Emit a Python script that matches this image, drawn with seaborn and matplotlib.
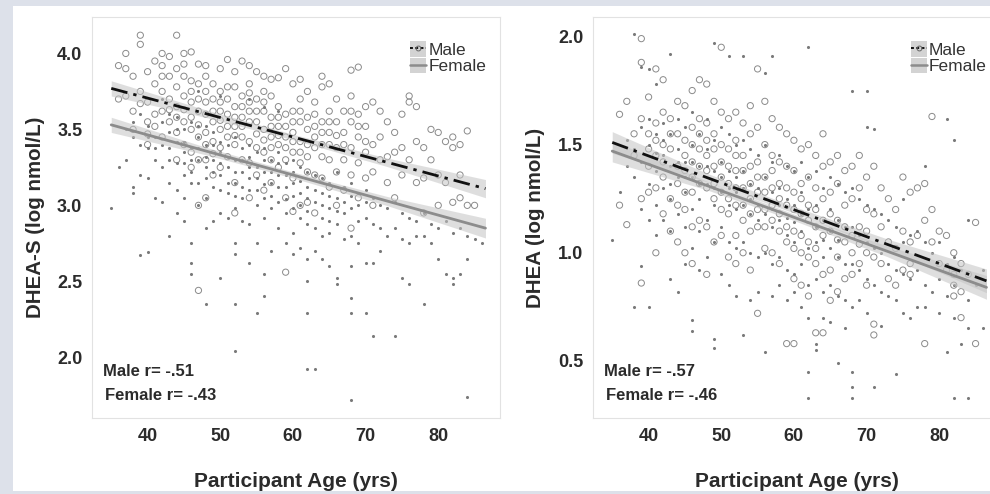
import matplotlib
matplotlib.use("Agg")
import matplotlib.pyplot as plt
import pandas as pd
import seaborn as sns
from matplotlib.legend_handler import HandlerTuple
from matplotlib.lines import Line2D
from matplotlib.patches import Patch, Rectangle


# values, grouped by (age, [values at that age])
DHEAS_MALE = [
    (36, [3.92, 3.70]), (37, [4.00, 3.90, 3.72]), (38, [3.85, 3.62, 3.50]),
    (39, [4.12, 4.06, 3.75, 3.67]), (40, [3.88, 3.68, 3.55, 3.40, 3.47]),
    (41, [3.95, 3.80, 3.60, 3.52]), (42, [4.00, 3.92, 3.75, 3.62, 3.45, 3.85]),
    (43, [3.98, 3.85, 3.70, 3.55, 3.63]), (44, [4.12, 3.90, 3.78, 3.65, 3.48, 3.30, 3.58]),
    (45, [4.00, 3.85, 3.72, 3.55, 3.40, 3.93, 3.63]),
    (46, [4.01, 3.82, 3.68, 3.50, 3.35, 3.25, 3.75, 3.58]),
    (47, [3.93, 3.80, 3.62, 3.45, 3.30, 3.00, 2.44, 3.70, 3.53]),
    (48, [3.92, 3.85, 3.75, 3.60, 3.48, 3.30, 3.05, 3.68, 3.40]),
    (49, [3.80, 3.70, 3.55, 3.42, 3.20, 3.62, 3.34]),
    (50, [3.90, 3.75, 3.62, 3.50, 3.38, 3.25, 3.68, 3.56]),
    (51, [3.96, 3.70, 3.60, 3.45, 3.32, 3.52, 3.78]),
    (52, [3.88, 3.78, 3.65, 3.52, 3.40, 3.15, 2.95, 3.58, 3.46]),
    (53, [3.95, 3.72, 3.58, 3.45, 3.30, 3.65, 3.52]),
    (54, [3.92, 3.80, 3.68, 3.55, 3.42, 3.28, 3.05, 3.74, 3.62]),
    (55, [3.88, 3.70, 3.55, 3.38, 3.20, 3.62, 3.47]),
    (56, [3.85, 3.75, 3.62, 3.50, 3.35, 3.10, 3.68, 3.43]),
    (57, [3.83, 3.72, 3.58, 3.45, 3.30, 3.15, 3.52, 3.38]),
    (58, [3.84, 3.65, 3.52, 3.40, 3.25, 3.58, 3.46]),
    (59, [3.90, 3.60, 3.45, 3.30, 3.05, 2.56, 3.52, 3.38]),
    (60, [3.80, 3.62, 3.48, 3.35, 3.18, 2.96, 3.55, 3.42]),
    (61, [3.83, 3.70, 3.55, 3.42, 3.28, 3.00, 3.62, 3.35]),
    (62, [3.75, 3.58, 3.40, 3.22, 3.02, 3.50, 3.32]),
    (63, [3.68, 3.52, 3.38, 3.20, 2.95, 3.45, 3.60]),
    (64, [3.85, 3.78, 3.55, 3.40, 3.18, 3.48, 3.32]),
    (65, [3.80, 3.62, 3.48, 3.30, 3.12, 3.55, 3.40]),
    (66, [3.70, 3.55, 3.38, 3.22, 3.00, 3.46]),
    (67, [3.62, 3.48, 3.30, 3.10, 3.40]), (68, [3.89, 3.72, 3.55, 3.38, 3.20, 2.85, 3.62]),
    (69, [3.91, 3.60, 3.45, 3.28, 3.05, 3.52]), (70, [3.65, 3.52, 3.35, 3.18, 3.42]),
    (71, [3.68, 3.40, 3.22, 3.00]), (72, [3.62, 3.45, 3.30]), (73, [3.55, 3.32, 3.15]),
    (74, [3.48, 3.35, 3.05]), (75, [3.60, 3.38, 3.20]), (76, [3.72, 3.68, 3.30]),
    (77, [3.65, 3.42, 3.15]), (78, [3.38, 3.18, 2.95]), (79, [3.50, 3.30]),
    (80, [3.48, 3.20, 3.00]), (81, [3.42, 3.15]), (82, [3.45, 3.38, 3.02]),
    (83, [3.40, 3.20, 3.05]), (84, [3.49, 3.00]), (85, [3.00]),
]

DHEAS_FEMALE = [
    (35, [2.98]), (36, [3.25]), (37, [3.50, 3.30]), (38, [3.55, 3.45, 3.12, 3.08]),
    (39, [3.60, 3.40, 3.20, 2.67]), (40, [3.52, 3.38, 3.18, 2.69, 3.45]),
    (41, [3.45, 3.30, 3.05, 3.38]), (42, [3.55, 3.40, 3.25, 3.02, 3.70]),
    (43, [3.60, 3.48, 3.30, 3.15, 2.80, 3.38]), (44, [3.58, 3.42, 3.28, 3.10, 2.95, 3.50]),
    (45, [3.50, 3.35, 3.20, 3.05, 2.90, 3.42, 3.28]),
    (46, [3.55, 3.38, 3.22, 2.75, 2.62, 2.55, 3.30, 3.15]),
    (47, [3.75, 3.45, 3.30, 3.15, 3.00, 3.52, 3.38]),
    (48, [3.52, 3.40, 3.25, 3.05, 2.85, 2.35, 3.32, 3.18]),
    (49, [3.48, 3.30, 3.12, 2.90, 3.40, 3.22]),
    (50, [3.72, 3.42, 3.28, 3.10, 2.95, 2.52, 3.35, 3.20]),
    (51, [3.40, 3.25, 3.08, 2.92, 3.32, 3.15]),
    (52, [3.45, 3.30, 3.15, 2.98, 2.75, 2.68, 2.35, 2.04, 3.22, 3.06]),
    (53, [3.38, 3.22, 3.05, 2.90, 3.30, 3.12]),
    (54, [3.70, 3.40, 3.25, 3.10, 2.88, 2.62, 3.32, 3.18]),
    (55, [3.35, 3.18, 3.00, 2.75, 2.29, 3.25, 3.10]),
    (56, [3.65, 3.38, 3.22, 3.05, 2.92, 2.55, 2.40, 3.30, 3.14]),
    (57, [3.30, 3.15, 2.98, 2.70, 3.22, 3.06]), (58, [3.62, 3.35, 3.20, 3.02, 2.85, 3.28, 3.12]),
    (59, [3.28, 3.12, 2.95, 2.75, 3.20, 3.04]), (60, [3.30, 3.15, 2.98, 2.82, 2.68, 3.22, 3.06]),
    (61, [3.25, 3.08, 2.92, 2.72, 3.16, 3.00]),
    (62, [3.22, 3.05, 2.88, 2.65, 2.50, 2.29, 1.92, 3.12, 2.96]),
    (63, [3.20, 3.02, 2.85, 2.70, 1.92, 3.10]), (64, [3.18, 3.00, 2.80, 2.65, 3.08, 2.92]),
    (65, [3.15, 2.98, 2.82, 2.60, 3.06, 2.90]), (66, [3.22, 3.05, 2.88, 2.52, 2.48, 2.96]),
    (67, [3.12, 2.95, 2.78, 3.02]), (68, [3.15, 2.98, 2.80, 2.60, 2.39, 2.29, 1.72, 3.06]),
    (69, [3.08, 2.90, 2.75, 3.00]), (70, [3.10, 2.92, 2.62, 2.29, 3.02]),
    (71, [3.05, 2.88, 2.62, 2.14]), (72, [3.00, 2.85, 2.70]), (73, [2.98, 2.80]),
    (74, [3.02, 2.85, 2.14]), (75, [2.95, 2.78, 2.52]), (76, [2.92, 2.75, 2.48]),
    (77, [2.90, 2.80]), (78, [2.95, 2.80, 2.35]), (79, [2.88, 2.75]),
    (80, [2.85, 2.65]), (81, [2.90, 2.55]), (82, [2.82, 2.52, 2.48]),
    (83, [2.85, 2.55]), (84, [2.80, 2.65, 1.74]), (85, [2.78]), (86, [2.75]),
]

DHEA_MALE = [
    (36, [1.64, 1.22]), (37, [1.70, 1.13]), (38, [1.55, 1.45]),
    (39, [1.99, 1.88, 1.62, 1.25, 0.86]), (40, [1.72, 1.55, 1.40, 1.28, 1.48]),
    (41, [1.85, 1.60, 1.45, 1.30, 1.00, 1.52]), (42, [1.80, 1.65, 1.50, 1.35, 1.18, 1.42]),
    (43, [1.62, 1.48, 1.25, 1.10, 1.55]), (44, [1.70, 1.55, 1.40, 1.22, 1.05, 1.32]),
    (45, [1.68, 1.52, 1.38, 1.20, 1.00, 1.45, 1.28]),
    (46, [1.75, 1.58, 1.42, 1.28, 1.12, 0.95, 1.50, 1.35]),
    (47, [1.80, 1.62, 1.48, 1.32, 1.15, 1.55, 1.40]),
    (48, [1.78, 1.60, 1.45, 1.30, 1.12, 0.90, 1.52, 1.38]),
    (49, [1.70, 1.55, 1.40, 1.25, 1.05, 1.48, 1.32]),
    (50, [1.95, 1.65, 1.50, 1.35, 1.20, 1.08, 1.42, 1.28]),
    (51, [1.62, 1.48, 1.32, 1.18, 0.98, 1.40, 1.25]),
    (52, [1.65, 1.52, 1.38, 1.22, 1.08, 0.95, 1.45, 1.30]),
    (53, [1.60, 1.45, 1.30, 1.15, 1.00, 1.38, 1.22]),
    (54, [1.68, 1.55, 1.40, 1.25, 1.10, 0.92, 1.32, 1.18]),
    (55, [1.85, 1.58, 1.42, 1.28, 1.12, 0.72, 1.35, 1.20]),
    (56, [1.70, 1.50, 1.35, 1.20, 1.02, 1.28, 1.12]),
    (57, [1.62, 1.45, 1.30, 1.15, 1.00, 1.38, 1.22]),
    (58, [1.58, 1.42, 1.25, 1.10, 0.95, 1.32, 1.18]),
    (59, [1.55, 1.40, 1.22, 1.05, 0.58, 1.30, 1.12]),
    (60, [1.52, 1.38, 1.20, 1.02, 0.88, 0.58, 1.28, 1.10]),
    (61, [1.48, 1.32, 1.18, 1.00, 0.85, 1.25, 1.08]),
    (62, [1.50, 1.35, 1.15, 0.98, 0.80, 1.22, 1.05]),
    (63, [1.45, 1.30, 1.12, 0.95, 0.63, 1.20, 1.02]),
    (64, [1.55, 1.40, 1.25, 1.08, 0.90, 0.63, 1.15]),
    (65, [1.42, 1.28, 1.10, 0.92, 0.78, 1.18]), (66, [1.45, 1.32, 1.15, 0.98, 0.82, 1.06]),
    (67, [1.38, 1.22, 1.05, 0.88, 1.12]), (68, [1.40, 1.25, 1.08, 0.90, 1.00]),
    (69, [1.45, 1.30, 1.12, 0.95, 1.04]), (70, [1.35, 1.20, 1.00, 0.85, 1.10]),
    (71, [1.40, 1.18, 0.98, 0.67, 0.62]), (72, [1.30, 1.12, 0.95]),
    (73, [1.25, 1.05, 0.88]), (74, [1.20, 1.02, 0.85]), (75, [1.35, 1.10, 0.92]),
    (76, [1.28, 1.05, 0.95, 0.90]), (77, [1.30, 1.08]), (78, [1.32, 1.15, 0.58]),
    (79, [1.63, 1.20, 1.05]), (80, [1.10, 0.95]), (81, [1.08, 0.92]),
    (82, [1.00, 0.90, 0.85, 0.80]), (83, [0.95, 0.82, 0.70]), (84, [0.90]),
    (85, [1.14, 0.58]),
]

DHEA_FEMALE = [
    (35, [1.06]), (36, [1.28]), (37, [1.52, 1.40]), (38, [2.01, 1.48, 1.35, 0.75]),
    (39, [1.86, 1.58, 1.42, 1.20, 0.94]), (40, [1.85, 1.50, 1.32, 1.15, 0.75, 1.62]),
    (41, [1.78, 1.55, 1.38, 1.22, 1.08, 1.46]), (42, [1.60, 1.45, 1.30, 1.15, 1.52]),
    (43, [1.92, 1.55, 1.40, 1.25, 1.10, 0.88, 1.32]), (44, [1.62, 1.48, 1.35, 1.18, 0.82, 1.42]),
    (45, [1.58, 1.42, 1.28, 1.12, 0.95, 1.35]),
    (46, [1.65, 1.50, 1.35, 1.20, 1.02, 0.69, 0.64, 1.42]),
    (47, [1.55, 1.40, 1.25, 1.10, 0.92, 1.32]), (48, [1.62, 1.48, 1.32, 1.15, 0.98, 1.40]),
    (49, [1.97, 1.52, 1.38, 1.22, 1.05, 0.60, 0.56, 1.30]),
    (50, [1.58, 1.42, 1.28, 1.12, 0.90, 1.35]),
    (51, [1.91, 1.55, 1.38, 1.22, 1.05, 0.85, 1.30]), (52, [1.50, 1.35, 1.20, 1.02, 0.80, 1.28]),
    (53, [1.91, 1.52, 1.38, 1.22, 1.05, 0.62, 1.30]), (54, [1.48, 1.32, 1.18, 1.00, 0.78, 1.25]),
    (55, [1.45, 1.30, 1.15, 0.98, 0.82, 1.22]), (56, [1.83, 1.50, 1.35, 1.18, 1.00, 0.54, 1.25]),
    (57, [1.91, 1.42, 1.28, 1.12, 0.95, 0.80, 1.20]), (58, [1.45, 1.30, 1.15, 0.98, 0.85, 1.22]),
    (59, [1.40, 1.25, 1.08, 0.92, 0.78, 1.16]), (60, [1.38, 1.22, 1.05, 0.90, 0.82, 1.14]),
    (61, [1.42, 1.28, 1.10, 0.95, 0.75, 1.18]),
    (62, [1.95, 1.35, 1.20, 1.02, 0.85, 0.70, 0.45, 0.33]),
    (63, [1.38, 1.22, 1.05, 0.88, 0.58, 0.55, 1.12]), (64, [1.30, 1.15, 0.98, 0.82, 0.70, 1.06]),
    (65, [1.35, 1.20, 1.02, 0.85, 0.68, 1.10]), (66, [1.32, 1.15, 0.98, 0.80, 0.49, 1.06]),
    (67, [1.28, 1.12, 0.95, 0.78, 0.65]),
    (68, [1.75, 1.30, 1.12, 0.95, 0.75, 0.45, 0.38, 0.33]),
    (69, [1.25, 1.08, 0.92, 0.78]), (70, [1.75, 1.58, 1.22, 1.05, 0.88, 0.72]),
    (71, [1.57, 1.20, 1.02, 0.85, 0.38]), (72, [1.18, 1.00, 0.82, 0.66]),
    (73, [1.15, 0.95, 0.80]), (74, [1.12, 0.92, 0.78, 0.44]),
    (75, [1.25, 1.05, 0.90, 0.72]), (76, [1.08, 0.88, 0.70]), (77, [1.10, 0.92, 0.75]),
    (78, [1.40, 1.05, 0.85, 0.75]), (79, [1.00, 0.82]), (80, [1.05, 0.88, 0.72]),
    (81, [1.62, 0.95, 0.80, 0.54]), (82, [1.52, 0.98, 0.85, 0.70, 0.33]),
    (83, [0.92, 0.58]), (84, [1.15, 0.78, 0.65, 0.33]), (85, [0.85]), (86, [0.92, 0.65]),
]

# fitted lines and confidence band half-widths, read at these ages
FIT_AGES = [35, 48, 60, 73, 86.5]
DHEAS_MALE_FIT = [3.77, 3.604, 3.45, 3.283, 3.11]
DHEAS_MALE_HALF = [0.05, 0.025, 0.018, 0.028, 0.06]
DHEAS_FEMALE_FIT = [3.53, 3.358, 3.20, 3.028, 2.85]
DHEAS_FEMALE_HALF = [0.05, 0.025, 0.02, 0.03, 0.065]
DHEA_MALE_FIT = [1.51, 1.348, 1.199, 1.037, 0.87]
DHEA_MALE_HALF = [0.05, 0.02, 0.015, 0.025, 0.055]
DHEA_FEMALE_FIT = [1.47, 1.311, 1.164, 1.005, 0.84]
DHEA_FEMALE_HALF = [0.05, 0.02, 0.015, 0.025, 0.055]

X_TICKS = [40, 50, 60, 70, 80]
DHEAS_TICKS = [2.0, 2.5, 3.0, 3.5, 4.0]
DHEA_TICKS = [0.5, 1.0, 1.5, 2.0]
DHEAS_R = ["Male r= -.51", "Female r= -.43"]
DHEA_R = ["Male r= -.57", "Female r= -.46"]

FONT = "Liberation Sans"
TEXT_COLOR = "#2b2b2b"
MALE_DASH = (0, (6, 2.2, 1.2, 2.2))


def expand(groups):
    rows = [(age, v) for age, values in groups for v in values]
    return pd.DataFrame(rows, columns=["age", "value"])


def draw_panel(ax, male, female, male_fit, male_half, female_fit, female_half,
               ticks, ylim, ylabel, r_texts, ylabel_x):
    sns.scatterplot(data=expand(male), x="age", y="value", ax=ax, marker="o",
                    s=20, fc="none", ec="#8a8a8a", linewidth=0.7, zorder=2)
    sns.scatterplot(data=expand(female), x="age", y="value", ax=ax, marker="o",
                    s=5, color="#7a7a7a", linewidth=0, zorder=2)

    for fit, half in ((male_fit, male_half), (female_fit, female_half)):
        lower = [f - h for f, h in zip(fit, half)]
        upper = [f + h for f, h in zip(fit, half)]
        ax.fill_between(FIT_AGES, lower, upper, color="#c4c4c4", alpha=0.55,
                        linewidth=0, zorder=3)

    sns.lineplot(x=FIT_AGES, y=female_fit, ax=ax, color="#8c8c8c", linewidth=2.0,
                 zorder=4)
    sns.lineplot(x=FIT_AGES, y=male_fit, ax=ax, color="#111111", linewidth=2.0,
                 linestyle=MALE_DASH, zorder=5)

    ax.set_xlim(32.35, 88.5)
    ax.set_ylim(*ylim)
    ax.set_xticks(X_TICKS)
    ax.set_yticks(ticks)
    ax.set_yticklabels([f"{t:.1f}" for t in ticks])
    ax.tick_params(axis="both", direction="out", length=4, width=0.8,
                   color="#9a9a9a", labelsize=13, labelcolor=TEXT_COLOR, pad=3)
    for label in ax.get_xticklabels() + ax.get_yticklabels():
        label.set_fontweight("bold")
        label.set_family(FONT)
    for spine in ax.spines.values():
        spine.set_color("#e2e2e2")
        spine.set_linewidth(0.8)

    ax.set_xlabel("Participant Age (yrs)", fontsize=15, fontweight="bold",
                  color=TEXT_COLOR, family=FONT)
    ax.set_ylabel(ylabel, fontsize=14.8, fontweight="bold", color=TEXT_COLOR,
                  family=FONT)
    ax.xaxis.set_label_coords(0.5, -0.135)
    ax.yaxis.set_label_coords(ylabel_x, 0.5)

    ax.text(0.027, 0.115, r_texts[0], transform=ax.transAxes, fontsize=12,
            fontweight="bold", color=TEXT_COLOR, family=FONT, va="center")
    ax.text(0.032, 0.057, r_texts[1], transform=ax.transAxes, fontsize=12,
            fontweight="bold", color=TEXT_COLOR, family=FONT, va="center")

    key_bg = Patch(facecolor="#d3d3d3", edgecolor="none")
    male_key = Line2D([], [], color="#111111", linewidth=1.4, linestyle=(0, (1.5, 1.2)),
                      marker="o", markersize=3.5, markerfacecolor="none",
                      markeredgecolor="#666666", markeredgewidth=0.7)
    female_key = Line2D([], [], color="#8c8c8c", linewidth=1.8)
    ax.legend(handles=[(key_bg, male_key), (key_bg, female_key)],
              labels=["Male", "Female"],
              handler_map={tuple: HandlerTuple(ndivide=1, pad=0)},
              loc="upper right", bbox_to_anchor=(1 - 14 / 408, 1 - 24 / 401),
              frameon=False, borderaxespad=0, borderpad=0, handlelength=0.9,
              handleheight=1.0, handletextpad=0.15, labelspacing=0.0,
              prop={"family": FONT, "size": 12.5}, labelcolor="#333333")


def main():
    sns.set_style("white")
    plt.rcParams["font.family"] = [FONT, "DejaVu Sans"]

    fig = plt.figure(figsize=(9.9, 4.94), dpi=100)
    fig.patch.set_facecolor("#dde1ea")
    fig.patches.append(Rectangle((13 / 990, 3 / 494), 1, 1 - 9 / 494,
                                 transform=fig.transFigure, facecolor="white",
                                 edgecolor="none", zorder=-5))

    width = 408 / 990
    height = 401 / 494
    bottom = 1 - 418 / 494
    ax_left = fig.add_axes([92 / 990, bottom, width, height])
    ax_right = fig.add_axes([593 / 990, bottom, width, height])

    draw_panel(ax_left, DHEAS_MALE, DHEAS_FEMALE, DHEAS_MALE_FIT, DHEAS_MALE_HALF,
               DHEAS_FEMALE_FIT, DHEAS_FEMALE_HALF, DHEAS_TICKS, (1.6, 4.24),
               "DHEA-S (log nmol/L)", DHEAS_R, -0.115)
    draw_panel(ax_right, DHEA_MALE, DHEA_FEMALE, DHEA_MALE_FIT, DHEA_MALE_HALF,
               DHEA_FEMALE_FIT, DHEA_FEMALE_HALF, DHEA_TICKS, (0.236, 2.09),
               "DHEA (log nmol/L)", DHEA_R, -0.118)

    fig.savefig("out.png", dpi=100, facecolor=fig.get_facecolor())


if __name__ == "__main__":
    main()
